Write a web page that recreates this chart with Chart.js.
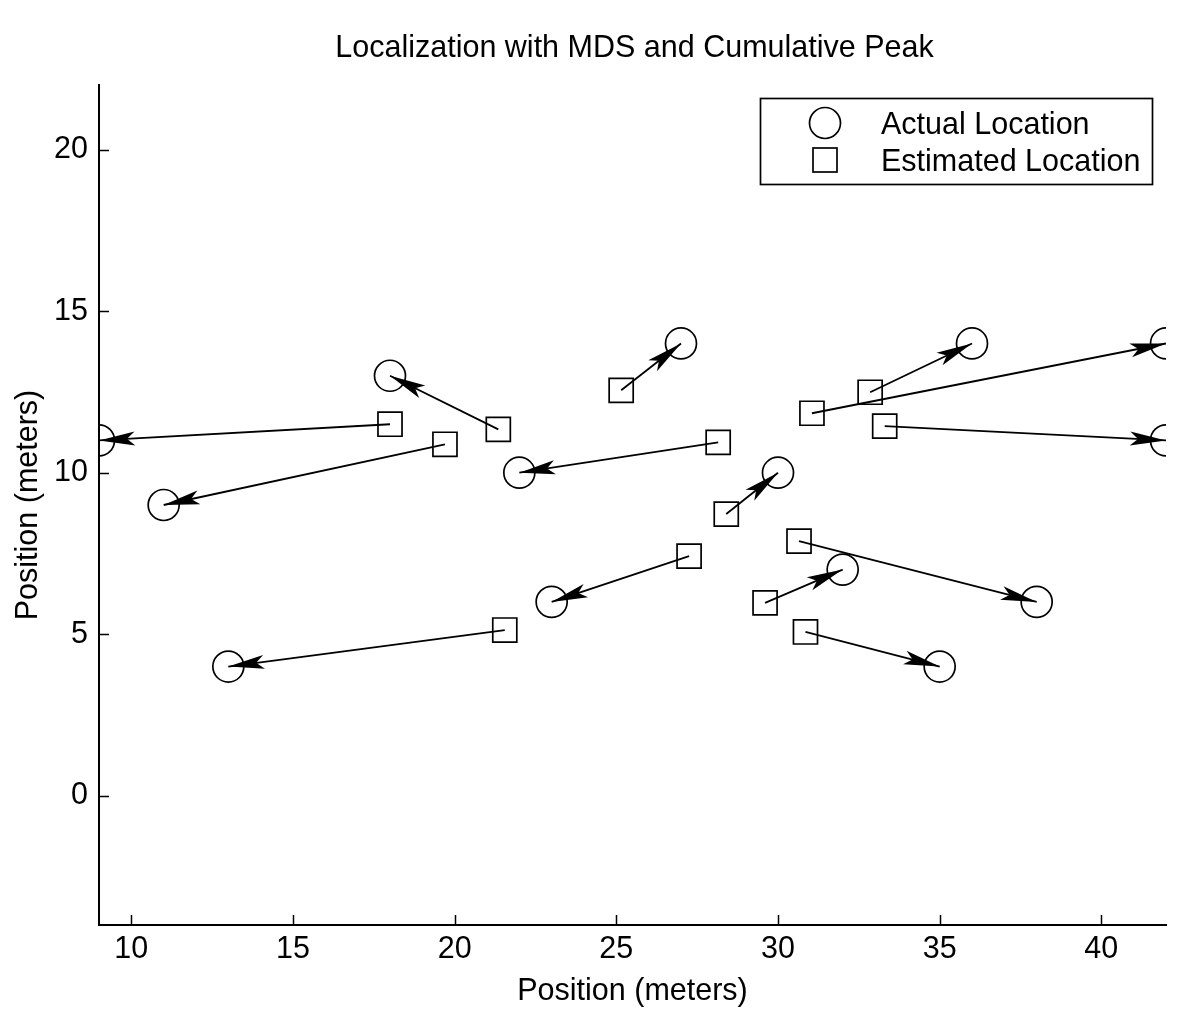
<!DOCTYPE html>
<html>

<head>
  <script src="https://cdn.jsdelivr.net/npm/chart.js@4.4.0/dist/chart.umd.min.js"></script>
  <style>
    body { margin: 0; background: #fff; }
  </style>
</head>

<body>
  <canvas id="myChart" width="1200" height="1022"></canvas>
  <script type="text/javascript">
    // actual node positions (circles)
    var actualX = [9, 11, 18, 27, 22, 30, 23, 13, 32, 38, 35, 36, 42, 42];
    var actualY = [11, 9, 13, 14, 10, 10, 6, 4, 7, 6, 4, 14, 14, 11];
    // estimated positions (squares), same order
    var estX = [18.0, 19.7, 21.35, 25.15, 28.15, 28.4, 27.25, 21.55, 29.6, 30.65, 30.85, 32.85, 31.05, 33.3];
    var estY = [11.5, 10.88, 11.34, 12.55, 10.94, 8.72, 7.42, 5.13, 5.97, 7.88, 5.07, 12.49, 11.84, 11.44];

    var xTicks = [10, 15, 20, 25, 30, 35, 40];
    var yTicks = [0, 5, 10, 15, 20];
    var legendLabels = ['Actual Location', 'Estimated Location'];
    var titleText = 'Localization with MDS and Cumulative Peak';

    var FONT = '"Liberation Sans", Arial, Helvetica, sans-serif';
    var FSIZE = 30.5;

    var actualPts = actualX.map(function(x, i) { return { x: x, y: actualY[i] }; });
    var estPts = estX.map(function(x, i) { return { x: x, y: estY[i] }; });

    var datasets = [{
      label: legendLabels[0],
      data: actualPts,
      pointStyle: 'circle',
      pointRadius: 15.5,
      borderColor: '#000',
      backgroundColor: 'rgba(0,0,0,0)',
      borderWidth: 1.7,
      order: 0
    }, {
      label: legendLabels[1],
      data: estPts,
      pointStyle: 'rect',
      pointRadius: 17,
      borderColor: '#000',
      backgroundColor: 'rgba(0,0,0,0)',
      borderWidth: 1.7,
      order: 0
    }];
    // one line per pair, estimated -> actual
    estPts.forEach(function(p, i) {
      datasets.push({
        data: [p, actualPts[i]],
        showLine: true,
        pointRadius: 0,
        borderColor: '#000',
        borderWidth: 1.8,
        order: 1
      });
    });

    // arrow heads at the actual location
    var arrowHeads = {
      id: 'arrowHeads',
      afterDatasetsDraw: function(chart) {
        var xs = chart.scales.x, ys = chart.scales.y, ctx = chart.ctx;
        ctx.save();
        ctx.fillStyle = '#000';
        for (var i = 0; i < actualX.length; i++) {
          var x1 = xs.getPixelForValue(estX[i]), y1 = ys.getPixelForValue(estY[i]);
          var x2 = xs.getPixelForValue(actualX[i]), y2 = ys.getPixelForValue(actualY[i]);
          var a = Math.atan2(y2 - y1, x2 - x1);
          var len = 36, w = 7, back = 28;
          ctx.beginPath();
          ctx.moveTo(x2, y2);
          ctx.lineTo(x2 - len * Math.cos(a) + w * Math.sin(a), y2 - len * Math.sin(a) - w * Math.cos(a));
          ctx.lineTo(x2 - back * Math.cos(a), y2 - back * Math.sin(a));
          ctx.lineTo(x2 - len * Math.cos(a) - w * Math.sin(a), y2 - len * Math.sin(a) + w * Math.cos(a));
          ctx.closePath();
          ctx.fill();
        }
        ctx.restore();
      }
    };

    // title, inward tick marks, boxed legend
    var decorations = {
      id: 'decorations',
      afterDraw: function(chart) {
        var ctx = chart.ctx, area = chart.chartArea;
        var xs = chart.scales.x, ys = chart.scales.y;
        ctx.save();
        ctx.fillStyle = '#000';
        ctx.font = FSIZE + 'px ' + FONT;
        ctx.textAlign = 'center';
        ctx.textBaseline = 'middle';
        ctx.fillText(titleText, (area.left + area.right) / 2 + 2, 49);

        ctx.strokeStyle = '#000';
        ctx.lineWidth = 1.5;
        ctx.beginPath();
        xTicks.forEach(function(v) {
          var px = Math.round(xs.getPixelForValue(v)) + 0.5;
          ctx.moveTo(px, area.bottom);
          ctx.lineTo(px, area.bottom - 10);
        });
        yTicks.forEach(function(v) {
          var py = Math.round(ys.getPixelForValue(v)) + 0.5;
          ctx.moveTo(area.left, py);
          ctx.lineTo(area.left + 10, py);
        });
        ctx.stroke();

        // legend
        var bx = 760, by = 98, bw = 392, bh = 86;
        ctx.fillStyle = '#fff';
        ctx.fillRect(bx, by, bw, bh);
        ctx.lineWidth = 1.7;
        ctx.strokeRect(bx + 0.5, by + 0.5, bw, bh);
        ctx.beginPath();
        ctx.arc(825, 123, 15.5, 0, Math.PI * 2);
        ctx.stroke();
        ctx.strokeRect(813, 148, 24, 24);
        ctx.fillStyle = '#000';
        ctx.textAlign = 'left';
        ctx.fillText(legendLabels[0], 881, 126);
        ctx.fillText(legendLabels[1], 881, 163);
        ctx.restore();
      }
    };

    var ctx = document.getElementById('myChart').getContext('2d');
    var chart = new Chart(ctx, {
      type: 'scatter',
      data: { datasets: datasets },
      plugins: [arrowHeads, decorations],
      options: {
        responsive: false,
        animation: false,
        layout: { padding: { left: 0, right: 34, top: 85, bottom: 0 } },
        plugins: {
          legend: { display: false },
          tooltip: { enabled: false },
          title: { display: false }
        },
        scales: {
          x: {
            type: 'linear',
            min: 9,
            max: 42,
            afterBuildTicks: function(scale) {
              scale.ticks = xTicks.map(function(v) { return { value: v }; });
            },
            afterFit: function(scale) { scale.height = 97; },
            grid: { display: false, drawTicks: false },
            border: { display: true, color: '#000', width: 2 },
            ticks: { color: '#000', padding: 6, font: { family: FONT, size: FSIZE } },
            title: {
              display: true,
              text: 'Position (meters)',
              color: '#000',
              font: { family: FONT, size: FSIZE },
              padding: { top: 0, bottom: 12 }
            }
          },
          y: {
            type: 'linear',
            min: -4,
            max: 22,
            afterBuildTicks: function(scale) {
              scale.ticks = yTicks.map(function(v) { return { value: v }; });
            },
            afterFit: function(scale) { scale.width = 99; },
            grid: { display: false, drawTicks: false },
            border: { display: true, color: '#000', width: 2 },
            ticks: { color: '#000', padding: 11, font: { family: FONT, size: FSIZE } },
            title: {
              display: true,
              text: 'Position (meters)',
              color: '#000',
              font: { family: FONT, size: FSIZE },
              padding: { top: 10, bottom: 0 }
            }
          }
        }
      }
    });
  </script>
</body>

</html>
